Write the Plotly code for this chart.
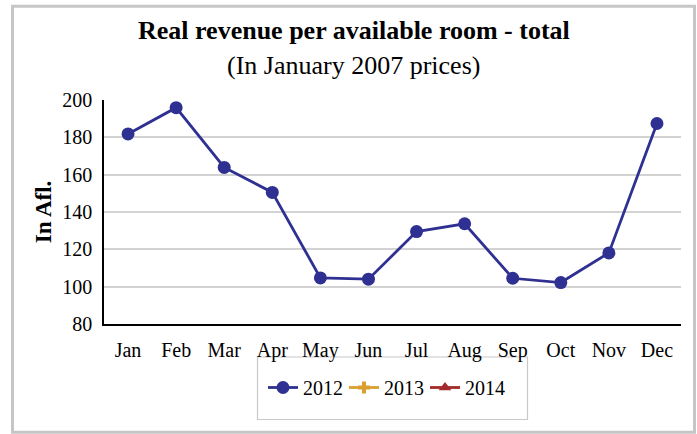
import plotly.graph_objects as go

# Monthly real revenue per available room (Afl., January 2007 prices)
months = ["Jan", "Feb", "Mar", "Apr", "May", "Jun",
          "Jul", "Aug", "Sep", "Oct", "Nov", "Dec"]
rev_2012 = [181.8, 195.9, 163.9, 150.5, 104.7, 104.0,
            129.5, 133.7, 104.5, 102.2, 118.1, 187.4]
rev_2013 = [None] * 12
rev_2014 = [None] * 12

title_text = "Real revenue per available room - total"
subtitle_text = "(In January 2007 prices)"
y_title = "In Afl."
y_ticks = [80, 100, 120, 140, 160, 180, 200]

FONT = "Liberation Serif, Times New Roman, serif"
W, H = 697, 434
L, R, T, B = 104, 16, 100, 110
pw, ph = W - L - R, H - T - B


def px_x(v):
    return (v - L) / pw


def px_y(v):
    return (H - B - v) / ph


fig = go.Figure()
fig.add_trace(go.Scatter(
    x=months, y=rev_2012, name="2012", mode="lines+markers",
    line=dict(color="#2f3192", width=2.8),
    marker=dict(symbol="circle", size=13, color="#2f3192"),
))
fig.add_trace(go.Scatter(
    x=months, y=rev_2013, name="2013", mode="lines+markers",
    line=dict(color="#d9a030", width=2.8),
    marker=dict(symbol="cross", size=10, color="#d9a030"),
))
fig.add_trace(go.Scatter(
    x=months, y=rev_2014, name="2014", mode="lines+markers",
    line=dict(color="#a52a2a", width=2.8),
    marker=dict(symbol="triangle-up", size=11, color="#a52a2a"),
))

fig.update_layout(
    width=W, height=H,
    margin=dict(l=L, r=R, t=T, b=B),
    paper_bgcolor="white", plot_bgcolor="white",
    font=dict(family=FONT, size=20, color="black"),
    showlegend=True,
    legend=dict(
        orientation="h", x=px_x(263), xanchor="left",
        y=px_y(368), yanchor="top",
        bgcolor="rgba(0,0,0,0)", borderwidth=0,
        font=dict(family=FONT, size=20, color="black"),
        itemwidth=30, entrywidth=36, entrywidthmode="pixels",
    ),
    annotations=[
        dict(text="<b>" + title_text + "</b>", xref="paper", yref="paper",
             x=px_x(353.5), y=px_y(30), xanchor="center", yanchor="middle",
             showarrow=False, font=dict(family=FONT, size=26, color="black")),
        dict(text=subtitle_text, xref="paper", yref="paper",
             x=px_x(353.5), y=px_y(65.5), xanchor="center", yanchor="middle",
             showarrow=False, font=dict(family=FONT, size=26, color="black")),
    ],
    shapes=[
        # outer chart frame
        dict(type="rect", xref="paper", yref="paper",
             x0=px_x(12.5), x1=px_x(694.5), y0=px_y(432.3), y1=px_y(6.3),
             line=dict(color="#c6c6c6", width=3), fillcolor="rgba(0,0,0,0)",
             layer="below"),
        # legend box
        dict(type="rect", xref="paper", yref="paper",
             x0=px_x(257.5), x1=px_x(527.5), y0=px_y(419.5), y1=px_y(357),
             line=dict(color="#c8c8c8", width=1.2), fillcolor="rgba(0,0,0,0)",
             layer="below"),
    ],
)

fig.update_xaxes(
    type="category", categoryorder="array", categoryarray=months,
    range=[-0.5, 11.5], showgrid=False, zeroline=False,
    showline=True, linecolor="black", linewidth=1.5,
    ticks="", ticklabelstandoff=7,
    tickfont=dict(family=FONT, size=20, color="black"),
)
fig.update_yaxes(
    range=[80, 200], tickvals=y_ticks, showgrid=True,
    gridcolor="#d3d3d3", gridwidth=1.5, zeroline=False,
    showline=True, linecolor="black", linewidth=1.5,
    ticks="", ticklabelstandoff=6,
    tickfont=dict(family=FONT, size=20, color="black"),
    title=dict(text="<b>" + y_title + "</b>", standoff=4,
               font=dict(family=FONT, size=23, color="black")),
)

fig.write_html("out.html")
